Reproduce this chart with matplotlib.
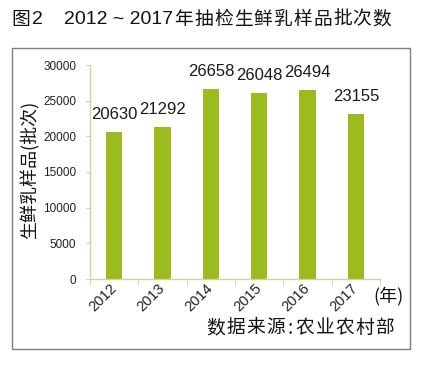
import matplotlib
matplotlib.use("Agg")
import matplotlib.pyplot as plt
from matplotlib.patches import Rectangle
import matplotlib.transforms as mtransforms

years = ["2012", "2013", "2014", "2015", "2016", "2017"]
values = [20630, 21292, 26658, 26048, 26494, 23155]
yticks = [0, 5000, 10000, 15000, 20000, 25000, 30000]

cjk = ["Noto Sans CJK SC", "DejaVu Sans"]
lat = "Liberation Sans"

W, H = 426, 369
fig = plt.figure(figsize=(W / 100, H / 100), dpi=100)
fig.patch.set_facecolor("white")


def fx(px):
    return px / W


def fy(py):
    return 1 - py / H


def spaced(text, x0, y, pitch, narrow_chars=":", narrow_pitch=11, **kw):
    x = x0
    for ch in text:
        p = narrow_pitch if ch in narrow_chars else pitch
        fig.text(fx(x + p / 2), fy(y), ch, ha="center", va="center", **kw)
        x += p


# outer frame
fig.add_artist(Rectangle((fx(12), fy(349)), (410 - 12) / W, (349 - 48) / H,
                         transform=fig.transFigure, fill=False, edgecolor="#7f7f7f", lw=1.0))

# title
fig.text(fx(11), fy(19), "图", family=cjk, fontsize=13.5, va="center", ha="left",
         weight="medium", color="#111111")
fig.text(fx(32), fy(19), "2", family=lat, fontsize=14, va="center", ha="left", color="#111111")
fig.text(fx(64), fy(19), "2012 ~ 2017", family=lat, fontsize=14, va="center", ha="left",
         color="#111111")
spaced("年抽检生鲜乳样品批次数", 174, 19, 19.8, family=cjk, fontsize=13.5,
       weight="medium", color="#111111")

ax = fig.add_axes([fx(90), fy(279), (380 - 90) / W, (279 - 65) / H])
x = list(range(len(years)))
ax.bar(x, values, width=0.34, color="#9bbb1f")
for xi, v in zip(x, values):
    ax.annotate(f"{v}", (xi, v), xytext=(0, 7), textcoords="offset points",
                ha="center", va="bottom", family=lat, fontsize=12, color="#1a1a1a")

ax.set_xlim(-0.5, len(years) - 0.5)
ax.set_ylim(0, 30000)
ax.set_yticks(yticks)
ax.set_yticklabels([str(t) for t in yticks], family=lat, fontsize=8.5, color="#222222")
ax.set_xticks(x)
ax.set_xticklabels(years, family=lat, fontsize=10.5, rotation=45, ha="right",
                   rotation_mode="anchor", va="center", color="#222222")
shift = mtransforms.ScaledTranslation(10 / 100, 0, fig.dpi_scale_trans)
for lab in ax.get_xticklabels():
    lab.set_transform(lab.get_transform() + shift)
ax.set_xticks([i - 0.5 for i in range(len(years) + 1)], minor=True)
ax.tick_params(axis="x", which="major", length=0, pad=5)
ax.tick_params(axis="x", which="minor", length=4, color="#c8d89a", direction="out")
ax.tick_params(axis="y", length=3, color="#c8d89a", direction="out", pad=7)
for s in ["top", "right"]:
    ax.spines[s].set_visible(False)
for s in ["left", "bottom"]:
    ax.spines[s].set_color("#c8d89a")
    ax.spines[s].set_linewidth(1.0)

fig.text(fx(30), fy(170), "生鲜乳样品(批次)", family=cjk, fontsize=13, rotation=90,
         ha="center", va="center", color="#111111")

fig.text(fx(404), fy(296), "(年)", family=cjk, fontsize=13, ha="right",
         va="center", color="#111111")
spaced("数据来源:农业农村部", 206, 328, 19.8, narrow_pitch=10, family=cjk, fontsize=13.5,
       weight="medium", color="#111111")

fig.savefig("out.png", dpi=100)
